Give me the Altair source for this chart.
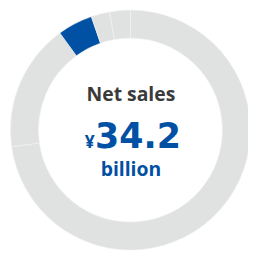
import altair as alt
import pandas as pd

segments = ["A", "B", "C", "D", "E"]
values = [262, 62, 17, 9, 10]
colors = ["#e0e1e1", "#e0e1e1", "#0050a4", "#e0e1e1", "#e0e1e1"]

df = pd.DataFrame({"segment": segments, "value": values, "order": list(range(len(segments)))})

CX = 126.5
ARC_CY = 122

arc = alt.Chart(df).mark_arc(innerRadius=95, outerRadius=124, stroke="#f2f2f2", strokeWidth=0.6).encode(
    theta=alt.Theta("value:Q", stack=True),
    order=alt.Order("order:Q"),
    color=alt.Color("segment:N", scale=alt.Scale(domain=segments, range=colors), legend=None),
    x=alt.value(CX),
    y=alt.value(ARC_CY),
)

t1 = alt.Chart(pd.DataFrame({"t": ["Net sales"]})).mark_text(font="Open Sans", fontWeight="bold", fontSize=20, color="#3b3a3a", baseline="alphabetic").encode(
    text="t:N", x=alt.value(127), y=alt.value(92))
t2 = alt.Chart(pd.DataFrame({"t": ["34.2"]})).mark_text(font="DejaVu Sans", fontWeight="bold", fontSize=36, color="#0050a4", baseline="alphabetic", align="left").encode(
    text="t:N", x=alt.value(90), y=alt.value(140))
t3 = alt.Chart(pd.DataFrame({"t": ["¥"]})).mark_text(font="Open Sans", fontWeight="bold", fontSize=18, color="#0050a4", baseline="alphabetic", align="right").encode(
    text="t:N", x=alt.value(89.5), y=alt.value(140))
t4 = alt.Chart(pd.DataFrame({"t": ["billion"]})).mark_text(font="Open Sans", fontWeight="bold", fontSize=20, color="#0050a4", baseline="alphabetic").encode(
    text="t:N", x=alt.value(127), y=alt.value(169))

chart = alt.layer(arc, t1, t2, t3, t4).properties(
    width=248, height=249, autosize=alt.AutoSizeParams(type="none"), padding=0, background="white"
).configure_view(stroke=None)

chart.save("out.html", embed_options={"renderer": "svg", "actions": False})
